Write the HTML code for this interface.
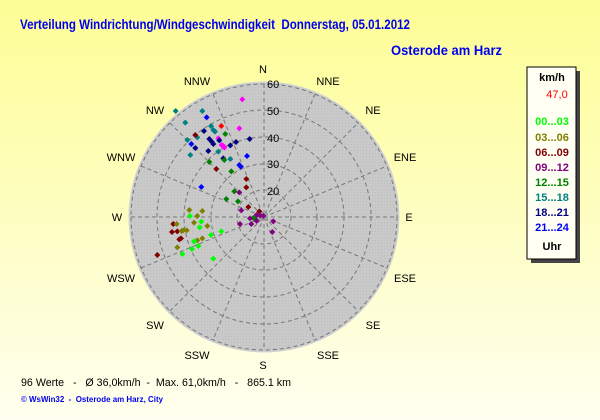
<!DOCTYPE html>
<html><head><meta charset="utf-8"><style>
html,body{margin:0;padding:0}
body{width:600px;height:420px;overflow:hidden;background:linear-gradient(#fdfd96 0%,#fefebc 45%,#fffff0 100%);font-family:"Liberation Sans",sans-serif}
svg text{white-space:pre}
</style></head><body>
<svg width="600" height="420" xmlns="http://www.w3.org/2000/svg" style="position:absolute;left:0;top:0">
<defs>
<pattern id="dots" width="3" height="3" patternUnits="userSpaceOnUse"><rect width="3" height="3" fill="#c9c9c9"/><rect width="1" height="1" fill="#bdbdbd"/></pattern>
<symbol id="d" viewBox="-5 -5 10 10"><path d="M0-5L5 0 0 5-5 0z"/></symbol>
</defs>
<text x="20" y="29" font-size="14" font-weight="bold" fill="#0000ee" textLength="390" lengthAdjust="spacingAndGlyphs">Verteilung Windrichtung/Windgeschwindigkeit  Donnerstag, 05.01.2012</text>
<text x="391" y="55" font-size="14" font-weight="bold" fill="#0000ee" textLength="111" lengthAdjust="spacingAndGlyphs">Osterode am Harz</text>
<circle cx="264" cy="217" r="135" fill="url(#dots)" stroke="#d4d4d4" stroke-width="1"/>
<g fill="none" stroke="#777" stroke-width="1" stroke-dasharray="4,3">
<circle cx="264" cy="217" r="27"/><circle cx="264" cy="217" r="53"/><circle cx="264" cy="217" r="80"/><circle cx="264" cy="217" r="107"/><circle cx="264" cy="217" r="133"/>
<g transform="translate(264,217)">
<line x1="0" y1="-133" x2="0" y2="133"/><line x1="-133" y1="0" x2="133" y2="0"/>
<line x1="-94" y1="-94" x2="94" y2="94"/><line x1="-94" y1="94" x2="94" y2="-94"/>
<line x1="-51" y1="-123" x2="51" y2="123"/><line x1="51" y1="-123" x2="-51" y2="123"/>
<line x1="-123" y1="-51" x2="123" y2="51"/><line x1="-123" y1="51" x2="123" y2="-51"/>
</g></g>
<rect x="260" y="213" width="8" height="8" fill="#999"/>
<g font-size="11" fill="#000" text-anchor="middle">
<text x="263" y="73">N</text><text x="328" y="85">NNE</text><text x="373" y="114">NE</text><text x="405" y="161">ENE</text><text x="409" y="221">E</text><text x="405" y="282">ESE</text><text x="373" y="329">SE</text><text x="328" y="359">SSE</text><text x="263" y="369">S</text><text x="197" y="359">SSW</text><text x="155" y="329">SW</text><text x="121" y="282">WSW</text><text x="117" y="221">W</text><text x="121" y="161">WNW</text><text x="155" y="114">NW</text><text x="197" y="85">NNW</text>
</g>
<g font-size="11" fill="#000"><text x="267" y="88">60</text><text x="267" y="115">50</text><text x="267" y="142">40</text><text x="267" y="168">30</text><text x="267" y="195">20</text></g>
<g transform="translate(119,59) scale(0.3333)">
<g fill="#ff00ff"><use href="#d" x="361" y="112" width="18" height="18"/><use href="#d" x="352" y="199" width="18" height="18"/><use href="#d" x="289" y="229" width="18" height="18"/><use href="#d" x="304" y="252" width="18" height="18"/><use href="#d" x="307" y="257" width="18" height="18"/><use href="#d" x="299" y="249" width="18" height="18"/></g>
<g fill="#008080"><use href="#d" x="161" y="147" width="18" height="18"/><use href="#d" x="241" y="147" width="18" height="18"/><use href="#d" x="190" y="182" width="18" height="18"/><use href="#d" x="267" y="192" width="18" height="18"/><use href="#d" x="279" y="209" width="18" height="18"/><use href="#d" x="226" y="226" width="18" height="18"/><use href="#d" x="196" y="234" width="18" height="18"/><use href="#d" x="205" y="279" width="18" height="18"/><use href="#d" x="289" y="269" width="18" height="18"/><use href="#d" x="325" y="291" width="18" height="18"/><use href="#d" x="274" y="204" width="18" height="18"/></g>
<g fill="#0000ff"><use href="#d" x="254" y="166" width="18" height="18"/><use href="#d" x="208" y="246" width="18" height="18"/><use href="#d" x="375" y="282" width="18" height="18"/><use href="#d" x="352" y="309" width="18" height="18"/><use href="#d" x="356" y="314" width="18" height="18"/><use href="#d" x="238" y="375" width="18" height="18"/></g>
<g fill="#000080"><use href="#d" x="246" y="207" width="18" height="18"/><use href="#d" x="262" y="231" width="18" height="18"/><use href="#d" x="269" y="239" width="18" height="18"/><use href="#d" x="274" y="246" width="18" height="18"/><use href="#d" x="220" y="258" width="18" height="18"/><use href="#d" x="259" y="267" width="18" height="18"/><use href="#d" x="304" y="289" width="18" height="18"/><use href="#d" x="325" y="250" width="18" height="18"/><use href="#d" x="342" y="240" width="18" height="18"/><use href="#d" x="383" y="231" width="18" height="18"/><use href="#d" x="292" y="235" width="18" height="18"/></g>
<g fill="#ff0000"><use href="#d" x="298" y="192" width="18" height="18"/></g>
<g fill="#800000"><use href="#d" x="220" y="219" width="18" height="18"/><use href="#d" x="283" y="321" width="18" height="18"/><use href="#d" x="373" y="351" width="18" height="18"/><use href="#d" x="373" y="376" width="18" height="18"/><use href="#d" x="379" y="435" width="18" height="18"/><use href="#d" x="412" y="448" width="18" height="18"/><use href="#d" x="154" y="486" width="18" height="18"/><use href="#d" x="150" y="510" width="18" height="18"/><use href="#d" x="166" y="508" width="18" height="18"/><use href="#d" x="172" y="532" width="18" height="18"/><use href="#d" x="177" y="529" width="18" height="18"/><use href="#d" x="106" y="579" width="18" height="18"/></g>
<g fill="#008000"><use href="#d" x="310" y="216" width="18" height="18"/><use href="#d" x="262" y="300" width="18" height="18"/><use href="#d" x="307" y="294" width="18" height="18"/><use href="#d" x="328" y="328" width="18" height="18"/><use href="#d" x="337" y="388" width="18" height="18"/><use href="#d" x="313" y="411" width="18" height="18"/><use href="#d" x="348" y="418" width="18" height="18"/><use href="#d" x="394" y="468" width="18" height="18"/><use href="#d" x="399" y="470" width="18" height="18"/></g>
<g fill="#800080"><use href="#d" x="352" y="391" width="18" height="18"/><use href="#d" x="358" y="445" width="18" height="18"/><use href="#d" x="384" y="469" width="18" height="18"/><use href="#d" x="354" y="486" width="18" height="18"/><use href="#d" x="388" y="486" width="18" height="18"/><use href="#d" x="404" y="477" width="18" height="18"/><use href="#d" x="454" y="478" width="18" height="18"/><use href="#d" x="451" y="510" width="18" height="18"/><use href="#d" x="414" y="460" width="18" height="18"/><use href="#d" x="404" y="459" width="18" height="18"/><use href="#d" x="424" y="462" width="18" height="18"/></g>
<g fill="#808000"><use href="#d" x="202" y="444" width="18" height="18"/><use href="#d" x="241" y="447" width="18" height="18"/><use href="#d" x="226" y="462" width="18" height="18"/><use href="#d" x="216" y="482" width="18" height="18"/><use href="#d" x="256" y="492" width="18" height="18"/><use href="#d" x="164" y="486" width="18" height="18"/><use href="#d" x="184" y="505" width="18" height="18"/><use href="#d" x="194" y="505" width="18" height="18"/><use href="#d" x="179" y="507" width="18" height="18"/><use href="#d" x="241" y="529" width="18" height="18"/><use href="#d" x="226" y="535" width="18" height="18"/><use href="#d" x="166" y="556" width="18" height="18"/></g>
<g fill="#00ff00"><use href="#d" x="204" y="462" width="18" height="18"/><use href="#d" x="238" y="479" width="18" height="18"/><use href="#d" x="233" y="496" width="18" height="18"/><use href="#d" x="298" y="508" width="18" height="18"/><use href="#d" x="267" y="519" width="18" height="18"/><use href="#d" x="216" y="538" width="18" height="18"/><use href="#d" x="229" y="552" width="18" height="18"/><use href="#d" x="210" y="561" width="18" height="18"/><use href="#d" x="181" y="576" width="18" height="18"/><use href="#d" x="274" y="590" width="18" height="18"/></g>
</g>
<rect x="531" y="71" width="49" height="192" fill="#444"/>
<rect x="527" y="67" width="49" height="192" fill="#fffff4" stroke="#000" stroke-width="1"/>
<g font-size="11" font-weight="bold" text-anchor="middle">
<text x="552" y="81" fill="#000">km/h</text>
<text x="557" y="98" fill="#ff0000" font-weight="normal">47,0</text>
<text x="552" y="125" fill="#00ff00">00...03</text>
<text x="552" y="141" fill="#808000">03...06</text>
<text x="552" y="156" fill="#800000">06...09</text>
<text x="552" y="171" fill="#800080">09...12</text>
<text x="552" y="186" fill="#008000">12...15</text>
<text x="552" y="201" fill="#008080">15...18</text>
<text x="552" y="216" fill="#000080">18...21</text>
<text x="552" y="231" fill="#0000ff">21...24</text>
<text x="552" y="250" fill="#000">Uhr</text>
</g>
<text x="21" y="386" font-size="11" fill="#000" textLength="270" lengthAdjust="spacingAndGlyphs">96 Werte   -   Ø 36,0km/h  -  Max. 61,0km/h   -   865.1 km</text>
<text x="21" y="402" font-size="8" font-weight="bold" fill="#0000ee" textLength="142" lengthAdjust="spacingAndGlyphs">© WsWin32  -  Osterode am Harz, City</text>
</svg>
</body></html>
